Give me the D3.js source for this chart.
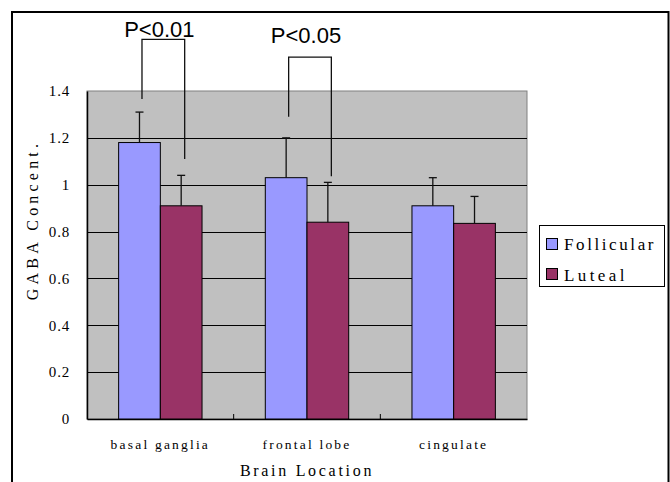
<!DOCTYPE html>
<html>
<head>
<meta charset="utf-8">
<script src="https://cdn.jsdelivr.net/npm/d3@7"></script>
<style>
  html, body { margin: 0; padding: 0; background: #fff; }
  svg { display: block; }
  .serif { font-family: "Liberation Serif", "DejaVu Serif", serif; }
</style>
</head>
<body>
<svg id="chart" width="670" height="482"></svg>
<script>
// ---- data ----
const categories = ["basal ganglia", "frontal lobe", "cingulate"];
const seriesNames = ["Follicular", "Luteal"];
const follicular = [1.18, 1.03, 0.91];
const luteal = [0.91, 0.84, 0.835];
const follicularErr = [0.13, 0.17, 0.12];
const lutealErr = [0.13, 0.17, 0.115];
const yTicks = [0, 0.2, 0.4, 0.6, 0.8, 1, 1.2, 1.4];
const yTickLabels = ["0", "0.2", "0.4", "0.6", "0.8", "1", "1.2", "1.4"];
// significance brackets: category, label, top value, left-end value, right-end value
const sigCats = ["basal ganglia", "frontal lobe"];
const sigLabels = ["P<0.01", "P<0.05"];
const sigTop = [1.62, 1.545];
const sigLeftEnd = [1.366, 1.29];
const sigRightEnd = [1.11, 1.036];

// ---- layout ----
const svg = d3.select("#chart");
const plot = { left: 87, right: 527, top: 91, bottom: 419 };
const colors = { Follicular: "#9999FF", Luteal: "#993366" };

// outer chart frame
svg.append("path")
  .attr("d", "M12,490 L12,12 L668.5,12 L668.5,490")
  .attr("fill", "none").attr("stroke", "#000").attr("stroke-width", 2);

const x = d3.scaleBand().domain(categories).range([plot.left, plot.right]).padding(0);
const y = d3.scaleLinear().domain([0, 1.4]).range([plot.bottom, plot.top]);
const groupW = x.bandwidth() * 0.5686;
const x1 = d3.scaleBand().domain(seriesNames).range([0, groupW]).padding(0);
const gx = c => x(c) + (x.bandwidth() - groupW) / 2;

// plot background
svg.append("rect")
  .attr("x", plot.left).attr("y", plot.top)
  .attr("width", plot.right - plot.left).attr("height", plot.bottom - plot.top)
  .attr("fill", "#C0C0C0").attr("stroke", "#808080").attr("stroke-width", 1);

// gridlines
svg.append("g").selectAll("line").data(yTicks.filter(t => t > 0 && t < 1.4)).join("line")
  .attr("x1", plot.left).attr("x2", plot.right)
  .attr("y1", d => Math.round(y(d)) + 0.5).attr("y2", d => Math.round(y(d)) + 0.5)
  .attr("stroke", "#000").attr("stroke-width", 1);

// y axis
const yAxis = d3.axisLeft(y).tickValues(yTicks)
  .tickFormat((d, i) => yTickLabels[i]).tickSize(0).tickPadding(17);
const yg = svg.append("g").attr("transform", `translate(${plot.left},0)`).call(yAxis);
yg.select(".domain").attr("stroke", "#000").attr("stroke-width", 1.5);
yg.selectAll("text").attr("class", "serif").style("font-size", "15px")
  .style("letter-spacing", "0.8px").attr("fill", "#000");

// x axis
const xAxis = d3.axisBottom(x).tickSize(0).tickPadding(20);
const xg = svg.append("g").attr("transform", `translate(0,${plot.bottom})`).call(xAxis);
xg.select(".domain").attr("stroke", "#000").attr("stroke-width", 1.5);
xg.selectAll("text").attr("class", "serif").style("font-size", "13.5px")
  .style("letter-spacing", "2.2px").attr("fill", "#000");
// inner tick marks at category boundaries
xg.append("g").selectAll("line").data(categories.slice(1)).join("line")
  .attr("x1", d => x(d)).attr("x2", d => x(d))
  .attr("y1", 0).attr("y2", -5).attr("stroke", "#000").attr("stroke-width", 1);

// bars
const rows = categories.map((c, i) => ({ cat: c, vals: [
  { s: "Follicular", v: follicular[i], e: follicularErr[i] },
  { s: "Luteal", v: luteal[i], e: lutealErr[i] }] }));

const groups = svg.append("g").selectAll("g").data(rows).join("g")
  .attr("transform", d => `translate(${gx(d.cat)},0)`);

groups.selectAll("rect").data(d => d.vals).join("rect")
  .attr("x", d => x1(d.s)).attr("width", x1.bandwidth())
  .attr("y", d => y(d.v)).attr("height", d => y(0) - y(d.v))
  .attr("fill", d => colors[d.s]).attr("stroke", "#000").attr("stroke-width", 1);

// error bars (upper only)
const eb = groups.selectAll("g.err").data(d => d.vals).join("g").attr("class", "err");
eb.append("line")
  .attr("x1", d => x1(d.s) + x1.bandwidth() / 2).attr("x2", d => x1(d.s) + x1.bandwidth() / 2)
  .attr("y1", d => y(d.v)).attr("y2", d => y(d.v + d.e))
  .attr("stroke", "#111").attr("stroke-width", 1.3);
eb.append("line")
  .attr("x1", d => x1(d.s) + x1.bandwidth() / 2 - 4).attr("x2", d => x1(d.s) + x1.bandwidth() / 2 + 4)
  .attr("y1", d => y(d.v + d.e)).attr("y2", d => y(d.v + d.e))
  .attr("stroke", "#111").attr("stroke-width", 1.3);

// significance brackets
const sigTextY = [37, 43];
sigCats.forEach((c, i) => {
  const xl = gx(c) + x1("Follicular") + x1.bandwidth() / 2 + 2.5;
  const xr = gx(c) + x1("Luteal") + x1.bandwidth() / 2 + 3.5;
  svg.append("path")
    .attr("d", `M${xl},${y(sigLeftEnd[i])} L${xl},${y(sigTop[i])} L${xr},${y(sigTop[i])} L${xr},${y(sigRightEnd[i])}`)
    .attr("fill", "none").attr("stroke", "#111").attr("stroke-width", 1.3);
  svg.append("text")
    .attr("x", x(c) + x.bandwidth() / 2 - 1).attr("y", sigTextY[i])
    .attr("text-anchor", "middle")
    .style("font-family", "'Liberation Sans', Arial, sans-serif").style("font-size", "22px")
    .attr("fill", "#000").text(sigLabels[i]);
});

// axis titles
svg.append("text").attr("class", "serif")
  .attr("transform", "translate(38,220) rotate(-90)")
  .attr("text-anchor", "middle").style("font-size", "16px").style("letter-spacing", "4.2px")
  .attr("fill", "#000").text("GABA Concent.");
svg.append("text").attr("class", "serif")
  .attr("x", 307).attr("y", 476)
  .attr("text-anchor", "middle").style("font-size", "16px").style("letter-spacing", "2.7px")
  .attr("fill", "#000").text("Brain Location");

// legend
const lg = svg.append("g");
lg.append("rect").attr("x", 539.5).attr("y", 225.5).attr("width", 125).attr("height", 61)
  .attr("fill", "#fff").attr("stroke", "#000").attr("stroke-width", 1);
seriesNames.forEach((s, i) => {
  lg.append("rect").attr("x", 546.5).attr("y", 238.5 + i * 30).attr("width", 11).attr("height", 11)
    .attr("fill", colors[s]).attr("stroke", "#000").attr("stroke-width", 1);
  lg.append("text").attr("class", "serif")
    .attr("x", 564).attr("y", 250 + i * 31)
    .style("font-size", "17px").style("letter-spacing", i === 0 ? "2.6px" : "3.4px")
    .attr("fill", "#000").text(s);
});
</script>
</body>
</html>
